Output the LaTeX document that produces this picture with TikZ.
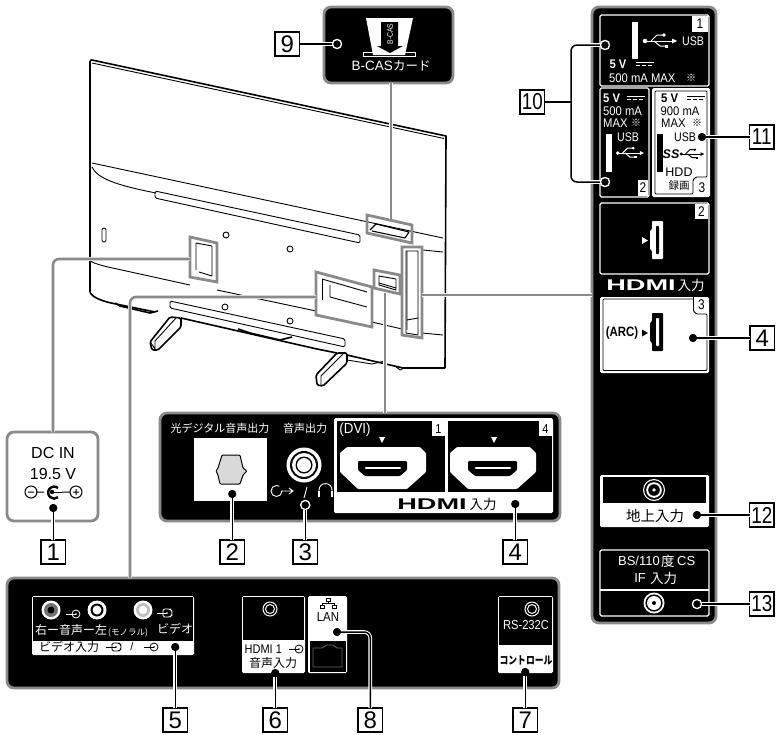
\documentclass[tikz,border=0pt]{standalone}
\usepackage{fontspec}
\setmainfont{Liberation Sans}
\newfontfamily\jp{Noto Sans CJK JP}
\newcommand\myfs[1]{\fontsize{#1pt}{#1pt}\selectfont}
\usetikzlibrary{calc}
\definecolor{gbord}{HTML}{8A8A8A}
\tikzset{
 panel/.style={draw=gbord,fill=black,line width=2.8pt,rounded corners=7pt,anchor=north west,inner sep=0pt,outer sep=0pt},
 wbox/.style={draw=white,fill=black,line width=1.2pt,rounded corners=1.5pt,anchor=north west,inner sep=0pt,outer sep=0pt},
 whitebox/.style={fill=white,rounded corners=1.5pt,anchor=north west,inner sep=0pt,outer sep=0pt},
 numbox/.style={draw=black,fill=white,line width=1.2pt,inner sep=0pt,minimum width=24.5pt,minimum height=24pt,font=\myfs{24},anchor=north west,outer sep=0pt},
 num2/.style={font=\myfs{23},xscale=.82,minimum width=29.9pt},
 dotn/.style={circle,fill=black,inner sep=0pt,minimum size=8pt,outer sep=0pt},
 odot/.style={circle,draw=white,fill=black,line width=1.2pt,inner sep=0pt,minimum size=9pt,outer sep=0pt},
 conn/.style={line width=1.5pt,black,line join=round,preaction={draw=white,line width=3.6pt}},
 gl/.style={line width=2.6pt,gbord,rounded corners=6pt,preaction={draw=white,line width=3.6pt}},
 hl/.style={line width=2.8pt,gbord,line join=miter},
 tv/.style={line width=.9pt,black,line join=round},
 tvb/.style={line width=1.6pt,black,line join=round},
 wt/.style={text=white,inner sep=0pt,font=\myfs{12.5}},
 bt/.style={text=black,inner sep=0pt,font=\myfs{12.5}},
 wj/.style={text=white,inner sep=0pt,font=\jp\myfs{11}},
 bj/.style={text=black,inner sep=0pt,font=\jp\myfs{12}},
 pics/usbsym/.style={code={
   \fill[#1] (-15,0) circle[radius=2.3];
   \draw[#1,line width=1pt] (-15,0) -- (13,0);
   \fill[#1] (12,-2.5) -- (17,0) -- (12,2.5) -- cycle;
   \draw[#1,line width=1pt] (-9,0) -- (-3,-6) -- (4,-6);
   \draw[#1,line width=1pt] (-6,0) -- (0,5) -- (6,5);
   \fill[#1] (4,-6) circle[radius=1.8];
   \fill[#1] (5,3.5) rectangle (8,6.5);
 }},
 pics/dcsym/.style={code={
   \draw[#1,line width=1pt] (-9,-2) -- (9,-2);
   \draw[#1,line width=1pt,dash pattern=on 4pt off 2pt] (-9,1.5) -- (9,1.5);
 }},
 pics/jacksym/.style={code={
   \draw[#1,line width=1pt] (0,0) circle[radius=7];
   \draw[#1,line width=1pt] (0,0) circle[radius=4.5];
 }},
 pics/ainsym/.style={code={
   \draw[#1,line width=.8pt] (0,0) circle[radius=4];
   \fill[#1] (0,0) circle[radius=.9];
   \draw[#1,line width=.8pt] (-10,0) -- (0,0);
 }},
 pics/vinsym/.style={code={
   \draw[#1,line width=.8pt,rounded corners=1.5pt] (-4,-4) -- (3,-4) -- (5,-2) -- (5,2) -- (3,4) -- (-4,4) -- cycle;
   \fill[#1] (0,0) circle[radius=.9];
   \draw[#1,line width=.8pt] (-10,0) -- (0,0);
 }},
 pics/hdmiport/.style={code={
   \fill[white,rounded corners=1pt] (347,447) -- (420,447) -- (426,453) -- (426,472) -- (407,489) -- (358,489) -- (340,472) -- (340,453) -- cycle;
   \fill[black,rounded corners=1pt] (358,461) -- (407,461) -- (407,470) -- (400,476) -- (365,476) -- (358,470) -- cycle;
   \draw[white,line width=2.6pt,line cap=round] (366,468) -- (400,468);
 }},
 pics/bigport/.style n args={2}{code={
   \fill[#1,rounded corners=.8pt] (-5,-19) -- (6,-19) -- (6,19) -- (-5,19) -- (-5,11) -- (-7,9) -- (-7,-9) -- (-5,-11) -- cycle;
   \fill[#2,rounded corners=.8pt] (-1,-14) -- (2,-14) -- (2,14) -- (-1,14) -- cycle;
 }},
}
\begin{document}
\begin{tikzpicture}[x=1pt,y=-1pt]
\useasboundingbox (0,0) rectangle (776,734);
% ---------- TV ----------
\draw[tvb] (90,292) -- (90,62) .. controls (90,60) and (91,60) .. (92,60) -- (446,136) -- (445,368);
\draw[tv] (92,63) -- (444,138.5);
\draw[tv] (92,163) -- (443,238);
\draw[tv] (92,167) .. controls (97,178) and (115,185) .. (156,193);
\draw[tv,rounded corners=1.5pt] (155,191) -- (360,235) -- (360,243) -- (155,198) -- cycle;
\draw[tv,rounded corners=1.5pt] (102,228) rectangle (106,242);
\draw[tv] (90,261) .. controls (96,264) and (100,265) .. (108,267) -- (190,285);
\draw[tv] (217,290) -- (316,311);
\draw[tv] (372,322) -- (402,329);
\draw[tv] (422,333) -- (443,335);
\draw[tv] (423,250) -- (443,252);
\draw[tv,rounded corners=1.5pt] (170,301) -- (345,339) -- (345,347) -- (170,308) -- cycle;
\foreach \hx/\hy in {226/235,290/249,225/307,290/321}{\draw[tv] (\hx,\hy) circle[radius=3];}
% bottom edge
\draw[tvb] (90,292) .. controls (92,298) and (105,302) .. (116,304) -- (155,312);
\draw[tvb] (115,303) -- (120,306) -- (150,313) -- (158,311);
\draw[tvb] (181,318) -- (317,349) -- (337,353);
\draw[tvb] (238,329) -- (250,333) -- (280,340) -- (292,337);
\draw[tvb] (347,355) -- (403,368) -- (445,368);
\draw[tv] (347,360) -- (372,364) -- (385,361);
\draw[tv] (395,366) -- (400,370) -- (404,368);
% feet
\draw[tvb,fill=white,rounded corners=1.5pt] (170,317) -- (181,318) -- (181,327) -- (158,350) -- (152,350) -- (150,342) -- cycle;
\draw[tv] (151,343) -- (155,349) (155,349) -- (155,341) -- (176,318);
\draw[tvb,fill=white,rounded corners=1.5pt] (337,353) -- (347,353) -- (347,363) -- (323,386) -- (317,385) -- (316,375) -- cycle;
\draw[tv] (321,385) -- (321,376) -- (343,354);
% small black details inside highlighted areas
\draw[tv] (196,243) -- (196,270) (199,272) -- (212,276) (212,246) -- (212,276) (196,243) -- (212,246);
\draw[tv] (322,279) -- (367,292);
\draw[tv] (322,279) -- (322,300);
\draw[tv] (330,285) -- (330,297) -- (367,307);
\draw[tv] (379,276) -- (396,279) -- (396,290) -- (379,285) -- cycle;
\draw[tv] (379,283) -- (396,288);
\draw[tv] (406,251) -- (418,251) -- (418,335) -- (406,333) -- cycle;
\draw[tv] (407,251) -- (407,320) -- (418,318) (407,330) -- (407,320);
\draw[tv,line width=1.1pt] (370,230) -- (376,224) -- (409,232) -- (405,238) -- (372,231);
% highlight frames
\draw[hl] (190,237) -- (217,243) -- (217,282) -- (190,277) -- cycle;
\draw[hl] (316,272) -- (372,287) -- (372,327) -- (316,315) -- cycle;
\draw[hl] (374,270) -- (400,275) -- (400,294) -- (374,288) -- cycle;
\draw[hl] (402,247) -- (422,247) -- (422,338) -- (402,335) -- cycle;
\draw[hl] (367,215) -- (412,225) -- (412,243) -- (367,233) -- cycle;
% panels
\node[panel,minimum width=129pt,minimum height=76pt] (pCas) at (324,7) {};
\node[panel,minimum width=91pt,minimum height=89pt,fill=white] (pDc) at (7,432) {};
\node[panel,minimum width=400pt,minimum height=108pt] (pAud) at (160,413) {};
\node[panel,minimum width=552pt,minimum height=110pt] (pBot) at (7,578) {};
\node[panel,minimum width=124pt,minimum height=616pt] (pRight) at (592,7) {};
% grey leaders
\coordinate (hDc) at (190,259);
\coordinate (hLg) at (316,297);
\coordinate (hSm) at (385,293);
\coordinate (hTa) at (422,295);
\coordinate (hCa) at (391,219);
\draw[gl] (hDc) -- (53,259) -- (53,432);
\draw[gl] (hLg) -- (130,297) -- (130,578);
\draw[gl] (hSm) -- (hSm |- pAud.north);
\draw[gl] (hTa) -- (hTa -| pRight.west);
\draw[gl] (hCa) -- (hCa |- pCas.south);
% ---------- B-CAS ----------
\fill[white] (366,18) -- (413,18) -- (405,55) -- (373,55) -- cycle;
\draw[white,line width=1pt] (373,52) -- (363,52) -- (363,56.5) -- (415,56.5) -- (415,52) -- (405,52);
\fill[black] (381,22) -- (398,22) -- (398,46) -- (403,46) -- (390,53) -- (377,46) -- (381,46) -- cycle;
\node[wt,font=\myfs{8},rotate=90,xscale=.85] (tCasR) at (390,34) {B-CAS};
\node[wt,font=\myfs{13.5},anchor=east] (tCas) at (393,66) {B-CAS};
\node[wj,font=\jp\myfs{12.5},anchor=west] (tCard) at (393,66) {カード};
% ---------- DC IN ----------
\node[bt,font=\myfs{16}] (tDc1) at (53,453) {DC IN};
\node[bt,font=\myfs{16}] (tDc2) at (53,474) {19.5 V};
\draw[line width=1pt] (31,492) circle[radius=6] (28,492) -- (34,492) (36,492) -- (44,492) (62,492) -- (70,492);
\draw[line width=1pt] (76,492) circle[radius=6] (73,492) -- (79,492) (76,489) -- (76,495);
\draw[line width=2.4pt] (58,488) arc[start angle=-50,end angle=-310,radius=6];
\fill (52,492) circle[radius=2.2];
\draw[line width=1pt] (52,492) -- (62,492);
% ---------- AUDIO PANEL ----------
\node[wj] (tOpt) at (220,428) {光デジタル音声出力};
\node[wj] (tAud) at (305,428) {音声出力};
\node[whitebox,rounded corners=0pt,minimum width=73pt,minimum height=63pt] (bOpt) at (194,438) {};
\draw[fill=black!15,line width=1pt,rounded corners=1pt] (222,455) -- (240,455) -- (243,468) -- (247,471) -- (243,475) -- (240,484) -- (220,484) -- (218,475) -- (216,471) -- (218,468) -- cycle;
\fill[white] (304,465) circle[radius=17.5];
\fill[black] (304,465) circle[radius=14];
\fill[white] (304,465) circle[radius=12];
\fill[black] (304,465) circle[radius=8.5];
\fill[white] (304,465) circle[radius=7];
\draw[white,line width=.9pt] (282,491) arc[start angle=0,end angle=300,radius=5.5] (281,491) -- (293,491) (289,488) -- (293,491) -- (289,494);
\draw[white,line width=.9pt] (304,498) -- (307,487);
\draw[white,line width=.9pt] (319,496) -- (319,490) arc[start angle=180,end angle=360,radius=6.5] -- (332,496);
\draw[white,line width=1.8pt] (319,491) -- (319,497) (332,491) -- (332,497);
\node[whitebox,minimum width=219pt,minimum height=95pt] (bHdmi) at (334,418) {};
\fill[black] (337,421) rectangle (445,492);
\fill[black] (448,421) rectangle (552,492);
\fill[white] (432,421) rectangle (445,436);
\fill[white] (539,421) rectangle (552,436);
\node[bt,font=\myfs{13},xscale=.85] (tH1) at (438.5,429) {1};
\node[bt,font=\myfs{13},xscale=.85] (tH4) at (545.5,429) {4};
\node[wt,font=\myfs{14.5},xscale=.92] (tDvi) at (355,430) {(DVI)};
\fill[white] (379,437) -- (385,437) -- (382,443) -- cycle;
\fill[white] (491,437) -- (497,437) -- (494,443) -- cycle;
\pic at (0,0) {hdmiport};
\pic at (110,0) {hdmiport};
\node[bt,font=\myfs{15.5}\bfseries,xscale=1.75] (tLogo) at (432,504) {HDMI};
\node[bj,font=\jp\myfs{13.5}] (tIn) at (483,504) {入力};
% ---------- BOTTOM PANEL ----------
\node[whitebox,minimum width=162pt,minimum height=59pt] (bVid) at (32,596) {};
\fill[black] (33,597) rectangle (193,641);
\fill[white] (51,610) circle[radius=9.5];
\fill[black!55] (51,610) circle[radius=7];
\fill[black] (51,610) circle[radius=3.5];
\fill[white] (97,610) circle[radius=9.5];
\fill[black] (97,610) circle[radius=6.5];
\fill[white] (97,610) circle[radius=4.5];
\fill[white] (143,610) circle[radius=9.5];
\fill[black!25] (143,610) circle[radius=7];
\fill[white] (143,610) circle[radius=4.2];
\pic at (76,614) {ainsym={white}};
\pic at (167,613) {vinsym={white}};
\node[wj,anchor=west,font=\jp\myfs{12}] (tR) at (35,630) {右ー音声ー左};
\node[wj,anchor=west,font=\jp\myfs{8.5}] (tMono) at (108,633) {(モノラル)};
\node[wj,anchor=west,font=\jp\myfs{12}] (tVid) at (157,629) {ビデオ};
\node[bj,anchor=west,font=\jp\myfs{12}] (tVin) at (39,647) {ビデオ入力};
\pic at (116,647) {vinsym={black}};
\node[bt,font=\myfs{11}] (tSl) at (132,647) {/};
\pic at (154,647) {ainsym={black}};
\node[whitebox,minimum width=63pt,minimum height=77pt] (bHa) at (242,596) {};
\fill[black] (243,597) rectangle (304,640);
\pic at (270,609) {jacksym={white}};
\node[bt,font=\myfs{12.5},anchor=west,xscale=.88] (tH1a) at (244.5,649) {HDMI 1};
\pic at (299,649) {ainsym={black}};
\node[bj] (tHb) at (273,663) {音声入力};
\node[whitebox,minimum width=39pt,minimum height=77pt] (bLan) at (308,596) {};
\fill[black] (310,641) rectangle (346,672);
\draw[black!60,line width=.9pt] (313,648) -- (322,648) -- (327,645) -- (333,645) -- (337,648) -- (342,648) -- (342,667) -- (313,667) -- cycle;
\draw[black,line width=.6pt] (326,598) rectangle (330,601) (328,601) -- (328,603) (322,603) -- (334,603) (322,603) -- (322,605) (334,603) -- (334,605) (320,605) rectangle (324,608) (332,605) rectangle (336,608);
\node[bt,font=\myfs{13},xscale=.88] (tLan) at (328,617) {LAN};
\node[whitebox,minimum width=55pt,minimum height=77pt] (bRs) at (498,596) {};
\fill[black] (499,597) rectangle (552,645);
\pic at (532,609) {jacksym={white}};
\node[wt,font=\myfs{13},xscale=.86] (tRs) at (526,625) {RS-232C};
\node[bj,font=\jp\bfseries\myfs{11},xscale=.8] (tCtl) at (526,660) {コントロール};
% ---------- RIGHT PANEL ----------
\node[wbox,minimum width=109pt,minimum height=71pt] (bU1) at (600,15) {};
\fill[white] (692,16) rectangle (708,32);
\node[bt,font=\myfs{14},xscale=.85] (tU1) at (700,24) {1};
\fill[white] (632,22) rectangle (638,59);
\pic at (660,41) {usbsym={white}};
\node[wt,xscale=.85] (tUsb1) at (693,41) {USB};
\node[wt,font=\myfs{12.5}\bfseries,xscale=.9] (t5v1) at (618,64) {5 V};
\pic at (645,64) {dcsym={white}};
\node[wt,anchor=west,xscale=.9] (tMa1) at (609,78) {500 mA MAX};
\node[wj,font=\jp\myfs{10}] (tNote1) at (691,78) {※};
\node[wbox,minimum width=49pt,minimum height=109pt] (bU2) at (600,88) {};
\node[wt,font=\myfs{12.5}\bfseries,xscale=.9,anchor=west] (t5v2) at (603,98) {5 V};
\pic at (636,98) {dcsym={white}};
\node[wt,xscale=.9,anchor=west] (tMa2) at (603,111) {500 mA};
\node[wt,xscale=.9,anchor=west] (tMx2) at (603,123) {MAX};
\node[wj,font=\jp\myfs{10}] (tNote2) at (636,123) {※};
\fill[white] (606,134) rectangle (612,172);
\node[wt,xscale=.85] (tUsb2) at (628,137) {USB};
\pic[scale=.82] at (630,153) {usbsym={white}};
\fill[white] (638,180) rectangle (648,196);
\node[bt,font=\myfs{14},xscale=.85] (tU2) at (643,188) {2};
\node[whitebox,minimum width=58pt,minimum height=109pt] (bU3) at (652,88) {};
\draw[black,line width=.9pt,rounded corners=1pt] (655,91) -- (707,91) -- (707,177) -- (696,177) -- (693,180) -- (693,194) -- (655,194) -- cycle;
\node[bt,font=\myfs{12.5}\bfseries,xscale=.9,anchor=west] (t5v3) at (661,98) {5 V};
\pic at (696,98) {dcsym={black}};
\node[bt,xscale=.9] (tMa3) at (680,111) {900 mA};
\node[bt,xscale=.9,anchor=west] (tMx3) at (661,123) {MAX};
\node[bj,font=\jp\myfs{10}] (tNote3) at (697,123) {※};
\fill[black] (657,134) rectangle (663,172);
\node[bt,xscale=.85] (tUsb3) at (685,137) {USB};
\node[bt,font=\myfs{12.5}\bfseries\itshape] (tSs) at (671,154) {SS};
\pic[scale=.72] at (692,154) {usbsym={black}};
\node[bt,font=\myfs{12.5}] (tHdd) at (679,172) {HDD};
\node[bj,font=\jp\myfs{10.5}] (tRec) at (679,186) {録画};
\node[bt,font=\myfs{14},xscale=.85] (tU3) at (702,188) {3};
\node[wbox,minimum width=109pt,minimum height=71pt] (bH2) at (600,203) {};
\fill[white] (695,204) rectangle (708,219);
\node[bt,font=\myfs{14},xscale=.85] (tH2) at (701.5,212) {2};
\fill[white] (642,237) -- (648,240.5) -- (642,244) -- cycle;
\pic at (657,240) {bigport={white}{black}};
\node[wt,font=\myfs{15.5}\bfseries,xscale=1.75] (tLogo2) at (641,285) {HDMI};
\node[wj,font=\jp\myfs{13.5}] (tIn2) at (691,285) {入力};
\node[whitebox,minimum width=109pt,minimum height=76pt] (bH3) at (600,297) {};
\draw[black,line width=.9pt,rounded corners=1pt] (693.5,297) -- (693.5,311) -- (696.5,314) -- (707,314) -- (707,370.5) -- (603,370.5) -- (603,299) -- (693.5,299);
\node[bt,font=\myfs{14},xscale=.85] (tH3) at (701.5,305) {3};
\node[bt,font=\myfs{13.5}\bfseries,xscale=.85] (tArc) at (622,333) {(ARC)};
\fill[black] (642,329.5) -- (648,333) -- (642,336.5) -- cycle;
\pic at (657,332) {bigport={black}{white}};
\node[whitebox,minimum width=109pt,minimum height=52pt] (bT) at (600,475) {};
\fill[black] (603,477) rectangle (706,503);
\fill[white] (654,490) circle[radius=11];
\fill[black] (654,490) circle[radius=9.8];
\fill[white] (654,490) circle[radius=7.8];
\fill[black] (654,490) circle[radius=5.8];
\fill[white] (654,490) circle[radius=1.8];
\node[bj,font=\jp\myfs{14.5}] (tTer) at (655,516) {地上入力};
\node[wbox,minimum width=109pt,minimum height=66pt] (bBs) at (600,550) {};
\draw[white,line width=1.2pt] (600,590) -- (709,590);
\node[wt,font=\myfs{13},anchor=east] (tBs) at (660,561) {BS/110};
\node[wj,font=\jp\myfs{13.5},anchor=west] (tDo) at (661,561) {度};
\node[wt,font=\myfs{13},anchor=west] (tCs) at (677,561) {CS};
\node[wt,font=\myfs{13},anchor=east] (tIf) at (646,578) {IF};
\node[wj,font=\jp\myfs{13.5},anchor=west] (tIn3) at (650,578) {入力};
\fill[white] (654,603) circle[radius=10.5];
\fill[black] (654,603) circle[radius=8.6];
\fill[white] (654,603) circle[radius=7];
\fill[black] (654,603) circle[radius=2];
% ---------- NUMBER BOXES ----------
\node[numbox] (n1) at (41,540) {1};
\node[numbox] (n2) at (220,540) {2};
\node[numbox] (n3) at (293,540) {3};
\node[numbox] (n4a) at (503,540) {4};
\node[numbox] (n5) at (163,708) {5};
\node[numbox] (n6) at (263,708) {6};
\node[numbox] (n7) at (513,708) {7};
\node[numbox] (n8) at (358,708) {8};
\node[numbox] (n9) at (275,32) {9};
\node[numbox,num2] (n10) at (520,90) {10};
\node[numbox,num2] (n11) at (749.5,125) {11};
\node[numbox] (n4b) at (750,326) {4};
\node[numbox,num2] (n12) at (749.5,503) {12};
\node[numbox,num2] (n13) at (749.5,592) {13};
% ---------- DOTS AND CONNECTORS ----------
\node[dotn] (d1) at (53.25,508) {};
\node[dotn] (d2) at (232.25,494) {};
\node[odot] (d3) at (305.25,505) {};
\node[dotn] (d4) at (515.25,504) {};
\node[dotn] (d5) at (175.25,647) {};
\node[dotn] (d6) at (275.25,673) {};
\node[dotn] (d7) at (525.25,672) {};
\node[dotn] (d8) at (337,632) {};
\node[odot] (d9) at (337,44) {};
\node[odot] (d10a) at (605,45) {};
\node[odot] (d10b) at (605,182) {};
\node[dotn] (d11) at (702,137) {};
\node[dotn] (d4b) at (693,338) {};
\node[dotn] (d12) at (697,515) {};
\node[odot] (d13) at (697,604) {};
\draw[conn] (d1) -- (n1.north);
\draw[conn] (d2) -- (n2.north);
\draw[conn] (d3) -- (n3.north);
\draw[conn] (d4) -- (n4a.north);
\draw[conn] (d5) -- (n5.north);
\draw[conn] (d6) -- (n6.north);
\draw[conn] (d7) -- (n7.north);
\draw[conn,rounded corners=6pt] (d8) -- (370.25,632) -- (n8.north);
\draw[conn] (n9.east) -- (d9);
\draw[conn,rounded corners=6pt] (d10a) -- (571,45) -- (571,182) -- (d10b);
\coordinate (j10) at (571,102);
\draw[line width=1.5pt] (n10.east) -- (j10);
\draw[conn] (d11) -- (n11.west);
\draw[conn] (d4b) -- (n4b.west);
\draw[conn] (d12) -- (n12.west);
\draw[conn] (d13) -- (n13.west);
% redraw dots above halos
\node[dotn] (e1) at (d1) {};
\node[dotn] (e2) at (d2) {};
\node[odot] (e3) at (d3) {};
\node[dotn] (e4) at (d4) {};
\node[dotn] (e5) at (d5) {};
\node[dotn] (e6) at (d6) {};
\node[dotn] (e7) at (d7) {};
\node[dotn] (e8) at (d8) {};
\node[odot] (e9) at (d9) {};
\node[odot] (e10a) at (d10a) {};
\node[odot] (e10b) at (d10b) {};
\node[dotn] (e11) at (d11) {};
\node[dotn] (e4b) at (d4b) {};
\node[dotn] (e12) at (d12) {};
\node[odot] (e13) at (d13) {};
\end{tikzpicture}
\end{document}
